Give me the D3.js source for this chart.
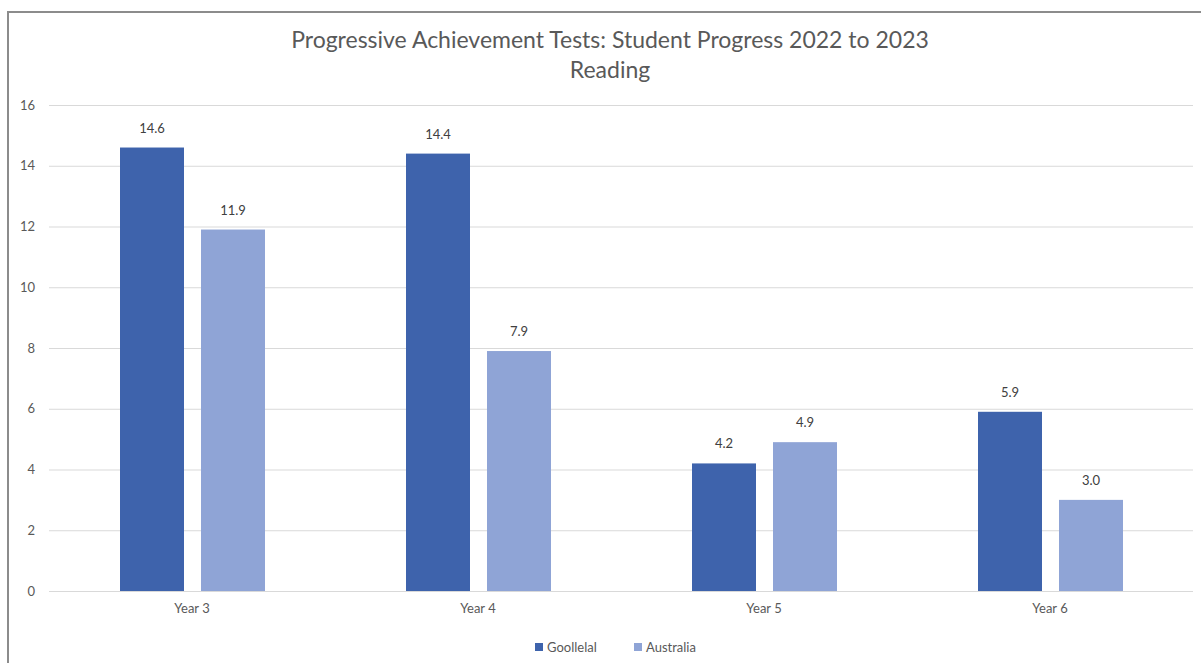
<!DOCTYPE html>
<html>
<head>
<meta charset="utf-8">
<script src="https://cdn.jsdelivr.net/npm/d3@7"></script>
<style>
  html, body { margin: 0; padding: 0; background: #fff; }
  svg { display: block; }
</style>
</head>
<body>
<svg id="chart" width="1201" height="663"></svg>
<script>
// Reading progress by year level
const categories = ["Year 3", "Year 4", "Year 5", "Year 6"];
const seriesNames = ["Goollelal", "Australia"];
const goollelal = [14.6, 14.4, 4.2, 5.9];
const australia = [11.9, 7.9, 4.9, 3.0];
const yTicks = [0, 2, 4, 6, 8, 10, 12, 14, 16];
const titleLines = ["Progressive Achievement Tests: Student Progress 2022 to 2023", "Reading"];

const colors = ["#3E63AC", "#8FA4D6"];
const font = "Lato, 'Open Sans', sans-serif";

const svg = d3.select("#chart");
const W = 1201, H = 663;

// chart frame (left and top edges inside the window)
svg.append("path")
  .attr("d", `M8,${H} L8,12 L${W},12`)
  .attr("fill", "none")
  .attr("stroke", "#8c8c8c")
  .attr("stroke-width", 2);

const x0 = d3.scaleBand().domain(categories).range([49, 1193]).paddingInner(0).paddingOuter(0);
const y = d3.scaleLinear().domain([0, 16]).range([591, 105]);

const barW = 64, gap = 18;
const x1 = d3.scaleOrdinal().domain(seriesNames)
  .range([x0.bandwidth() / 2 - gap / 2 - barW + 1, x0.bandwidth() / 2 + gap / 2]);

// gridlines
svg.append("g").selectAll("line").data(yTicks).join("line")
  .attr("x1", 49).attr("x2", 1193)
  .attr("y1", d => y(d) + 0.5).attr("y2", d => y(d) + 0.5)
  .attr("stroke", "#d9d9d9").attr("stroke-width", 1);

// y axis labels
const yAxis = d3.axisLeft(y).tickValues(yTicks).tickSize(0).tickPadding(0);
const gy = svg.append("g").attr("transform", "translate(35,0)").call(yAxis);
gy.select(".domain").remove();
gy.selectAll("text")
  .attr("fill", "#595959").attr("font-family", font).attr("font-size", 13);

// x axis labels
const xAxis = d3.axisBottom(x0).tickSize(0).tickPadding(0);
const gx = svg.append("g").attr("transform", "translate(0,604)").call(xAxis);
gx.select(".domain").remove();
gx.selectAll("text")
  .attr("fill", "#595959").attr("font-family", font).attr("font-size", 13);

// bars
const data = [];
categories.forEach((c, i) => {
  data.push({ cat: c, series: seriesNames[0], value: goollelal[i], color: colors[0] });
  data.push({ cat: c, series: seriesNames[1], value: australia[i], color: colors[1] });
});

svg.append("g").selectAll("rect").data(data).join("rect")
  .attr("x", d => x0(d.cat) + x1(d.series))
  .attr("y", d => y(d.value))
  .attr("width", barW)
  .attr("height", d => y(0) - y(d.value))
  .attr("fill", d => d.color);

// value labels
svg.append("g").selectAll("text").data(data).join("text")
  .attr("x", d => x0(d.cat) + x1(d.series) + barW / 2)
  .attr("y", d => y(d.value) - 15)
  .attr("text-anchor", "middle")
  .attr("fill", "#404040")
  .attr("font-family", font).attr("font-size", 13)
  .text(d => d.value.toFixed(1));

// title
svg.append("g").selectAll("text").data(titleLines).join("text")
  .attr("x", 610)
  .attr("y", (d, i) => 48 + i * 30)
  .attr("text-anchor", "middle")
  .attr("fill", "#595959")
  .attr("font-family", font).attr("font-size", 23)
  .text(d => d);

// legend
const legend = svg.append("g");
const legendX = [535, 634];
seriesNames.forEach((s, i) => {
  legend.append("rect")
    .attr("x", legendX[i]).attr("y", 643)
    .attr("width", 8).attr("height", 8)
    .attr("fill", colors[i]);
  legend.append("text")
    .attr("x", legendX[i] + 12).attr("y", 652)
    .attr("fill", "#595959")
    .attr("font-family", font).attr("font-size", 13)
    .text(s);
});
</script>
</body>
</html>
